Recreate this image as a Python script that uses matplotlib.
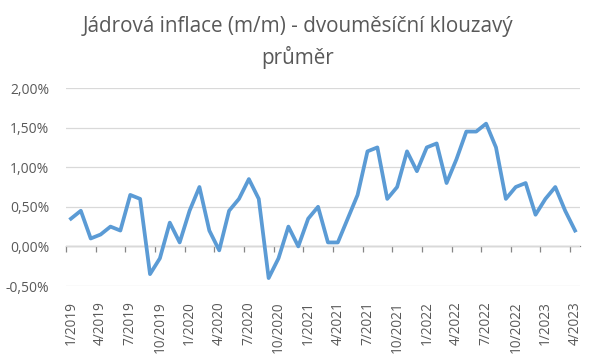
import matplotlib.pyplot as plt
from matplotlib.ticker import FuncFormatter

# monthly data 1/2019 .. 4/2023 (m/m, %, two-month moving average)
months = [f"{m}/{y}" for y in range(2019, 2024) for m in range(1, 13)][:52]
values = [0.35, 0.45, 0.10, 0.15, 0.25, 0.20, 0.65, 0.60, -0.35, -0.15,
          0.30, 0.05, 0.45, 0.75, 0.20, -0.05, 0.45, 0.60, 0.85, 0.60,
          -0.40, -0.15, 0.25, 0.00, 0.35, 0.50, 0.05, 0.05, 0.35, 0.65,
          1.20, 1.25, 0.60, 0.75, 1.20, 0.95, 1.25, 1.30, 0.80, 1.10,
          1.45, 1.45, 1.55, 1.25, 0.60, 0.75, 0.80, 0.40, 0.60, 0.75,
          0.45, 0.20]
yticks = [-0.5, 0.0, 0.5, 1.0, 1.5, 2.0]

TEXT = "#595959"
plt.rcParams['font.family'] = ['Open Sans', 'DejaVu Sans']

fig = plt.figure(figsize=(5.99, 3.57), dpi=100)
ax = fig.add_axes([66 / 599, 1 - 286 / 357, 514 / 599, 198 / 357])

x = list(range(len(values)))
ax.plot(x, values, color="#5B9BD5", linewidth=2.7, solid_joinstyle='round')

ax.set_xlim(-0.5, len(values) - 0.5)
ax.set_ylim(-0.5, 2.0)
ax.set_yticks(yticks)
ax.yaxis.set_major_formatter(FuncFormatter(lambda v, p: f"{v:.2f}%".replace(".", ",")))
ax.grid(axis='y', color="#D9D9D9", linewidth=0.9)
ax.set_axisbelow(True)
for s in ax.spines.values():
    s.set_visible(False)
ax.tick_params(axis='y', length=0, labelsize=10, labelcolor=TEXT, pad=12)

# category labels every 3 months, at the bottom
ax.set_xticks(x[::3])
ax.set_xticklabels(months[::3], rotation=90)
ax.tick_params(axis='x', length=0, labelsize=9.8, labelcolor=TEXT, pad=11)

# horizontal axis crossing at zero, tick marks between categories
zero_pos = (0 - (-0.5)) / 2.5
sec = ax.secondary_xaxis(zero_pos)
sec.set_xticks([i - 0.5 for i in range(0, len(values) + 1, 3)])
sec.set_xticklabels([])
sec.tick_params(axis='x', direction='out', length=4, color="#868686", width=0.9)
sec.spines['bottom'].set_color("#868686")
sec.spines['bottom'].set_linewidth(0.9)

fig.text(0.497, 0.88, "Jádrová inflace (m/m) - dvouměsíční klouzavý\nprůměr",
         ha='center', va='center', fontsize=14.9, color=TEXT, linespacing=1.5)

fig.savefig("out.png", dpi=100)
